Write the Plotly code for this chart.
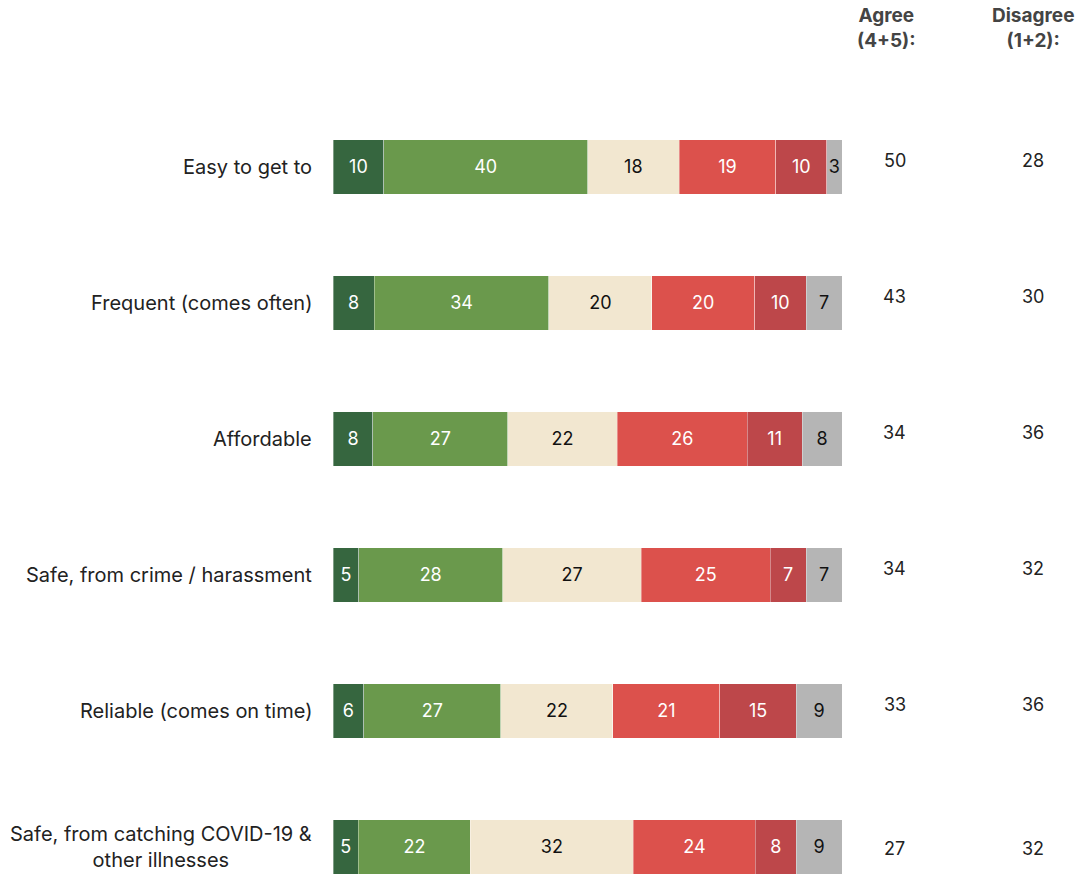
import plotly.graph_objects as go

categories = [
    "Easy to get to",
    "Frequent (comes often)",
    "Affordable",
    "Safe, from crime / harassment",
    "Reliable (comes on time)",
    "Safe, from catching COVID-19 &<br>other illnesses",
]
series_names = ["Strongly agree (5)", "Agree (4)", "Neutral (3)", "Disagree (2)", "Strongly disagree (1)", "Don't know"]
strongly_agree = [10, 8, 8, 5, 6, 5]
agree = [40, 34, 27, 28, 27, 22]
neutral = [18, 20, 22, 27, 22, 32]
disagree = [19, 20, 26, 25, 21, 24]
strongly_disagree = [10, 10, 11, 7, 15, 8]
dont_know = [3, 7, 8, 7, 9, 9]
agree_total = [50, 43, 34, 34, 33, 27]
disagree_total = [28, 30, 36, 32, 36, 32]
header_labels = ["<b>Agree<br>(4+5):</b>", "<b>Disagree<br>(1+2):</b>"]

colors = ["#36663f", "#6a994c", "#f2e7d0", "#dc514c", "#bd474a", "#b5b5b5"]
text_colors = ["white", "white", "#111111", "white", "white", "#111111"]
FONT = "Inter"

series = [strongly_agree, agree, neutral, disagree, strongly_disagree, dont_know]
ypos = list(range(len(categories)))

fig = go.Figure()
for name, vals, c, tc in zip(series_names, series, colors, text_colors):
    fig.add_trace(go.Bar(
        y=ypos, x=vals, name=name, orientation="h",
        marker=dict(color=c, line=dict(color="rgba(255,255,255,0.6)", width=0.6)),
        text=[str(v) for v in vals], texttemplate="%{text}",
        textposition="inside", insidetextanchor="middle",
        textfont=dict(family=FONT, size=18, color=tc),
        constraintext="none", width=0.4, hoverinfo="skip",
    ))

annotations = []
for i, cat in enumerate(categories):
    vshift = 6 if "<br>" not in cat else -2
    annotations.append(dict(x=0, y=i, xref="paper", yref="y", text=cat, showarrow=False,
                            xanchor="right", yanchor="middle", xshift=-19, align="center",
                            font=dict(family=FONT, size=20, color="#222222")))
    annotations.append(dict(x=1.104, y=i, xref="paper", yref="y", text=str(agree_total[i]), showarrow=False,
                            xanchor="center", yanchor="middle", yshift=vshift,
                            font=dict(family=FONT, size=18, color="#222222")))
    annotations.append(dict(x=1.375, y=i, xref="paper", yref="y", text=str(disagree_total[i]), showarrow=False,
                            xanchor="center", yanchor="middle", yshift=vshift,
                            font=dict(family=FONT, size=18, color="#222222")))

for hx, htxt in zip([1.088, 1.375], header_labels):
    annotations.append(dict(x=hx, y=1.0916, xref="paper", yref="paper", text=htxt,
                            showarrow=False, xanchor="center", yanchor="middle", align="center",
                            borderpad=0, font=dict(family=FONT, size=19, color="#444444")))

fig.update_layout(
    width=1091, height=874,
    barmode="stack", barnorm="percent",
    showlegend=False,
    plot_bgcolor="white", paper_bgcolor="white",
    margin=dict(l=333, r=249, t=99, b=0),
    xaxis=dict(range=[0, 100], visible=False, fixedrange=True),
    yaxis=dict(range=[5.199, -0.5], visible=False, fixedrange=True),
    annotations=annotations,
)

fig.write_html("out.html", config={"displayModeBar": False},
               post_script="document.body.style.margin='0';")
